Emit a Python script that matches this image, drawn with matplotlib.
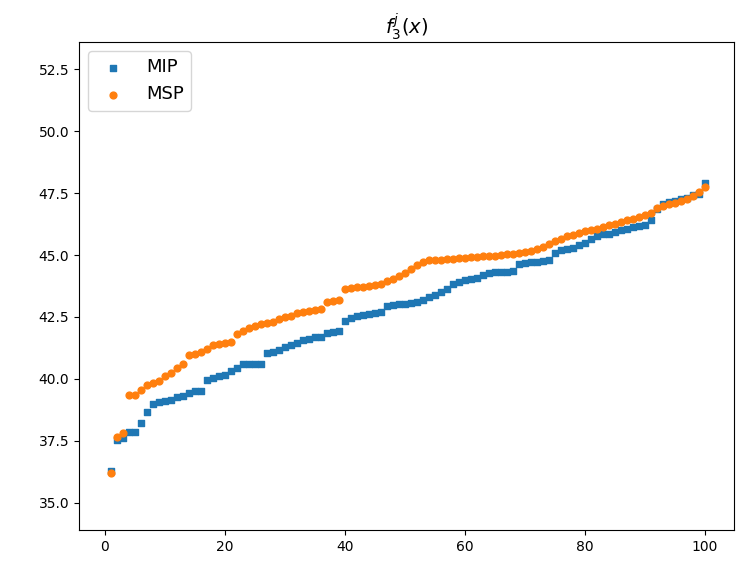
import numpy as np
import matplotlib
matplotlib.use("Agg")
import matplotlib.pyplot as plt

x = list(range(1, 101))

mip = [36.3, 37.55, 37.6, 37.85, 37.85, 38.2, 38.65, 39.0, 39.05, 39.1,
       39.15, 39.25, 39.3, 39.45, 39.5, 39.5, 39.95, 40.05, 40.1, 40.15,
       40.3, 40.45, 40.6, 40.6, 40.6, 40.62, 41.05, 41.1, 41.15, 41.3,
       41.35, 41.45, 41.55, 41.6, 41.68, 41.7, 41.85, 41.9, 41.92, 42.35,
       42.45, 42.55, 42.58, 42.62, 42.68, 42.72, 42.95, 43.0, 43.02, 43.02,
       43.05, 43.12, 43.2, 43.3, 43.4, 43.5, 43.62, 43.85, 43.92, 44.0,
       44.03, 44.08, 44.2, 44.29, 44.3, 44.3, 44.32, 44.35, 44.65, 44.68,
       44.7, 44.72, 44.75, 44.8, 45.1, 45.2, 45.23, 45.27, 45.4, 45.5,
       45.65, 45.78, 45.83, 45.86, 45.95, 46.03, 46.05, 46.12, 46.16, 46.2,
       46.4, 46.85, 47.05, 47.15, 47.2, 47.28, 47.32, 47.42, 47.48, 47.9]

msp = [36.2, 37.65, 37.8, 39.33, 39.35, 39.55, 39.75, 39.85, 39.9, 40.1,
       40.25, 40.45, 40.6, 40.95, 41.0, 41.1, 41.2, 41.38, 41.42, 41.45,
       41.5, 41.8, 41.95, 42.05, 42.12, 42.2, 42.25, 42.3, 42.4, 42.5,
       42.55, 42.65, 42.72, 42.75, 42.78, 42.82, 43.1, 43.15, 43.2, 43.62,
       43.65, 43.7, 43.72, 43.75, 43.8, 43.85, 43.95, 44.05, 44.15, 44.28,
       44.45, 44.6, 44.72, 44.78, 44.8, 44.82, 44.84, 44.86, 44.88, 44.9,
       44.92, 44.93, 44.95, 44.96, 44.98, 45.0, 45.03, 45.06, 45.09, 45.12,
       45.18, 45.25, 45.32, 45.45, 45.55, 45.65, 45.75, 45.8, 45.9, 45.98,
       46.03, 46.06, 46.12, 46.2, 46.25, 46.35, 46.42, 46.45, 46.52, 46.6,
       46.7, 46.9, 46.98, 47.05, 47.1, 47.2, 47.28, 47.4, 47.55, 47.75]

labels = ["MIP", "MSP"]

fig = plt.figure(figsize=(7.48, 5.64), dpi=100)
ax = fig.add_axes([0.1056, 0.0603, 0.8757, 0.8652])
ax.scatter(x, mip, marker="s", s=24, color="#1f77b4", label=labels[0])
ax.scatter(x, msp, marker="o", s=24, color="#ff7f0e", label=labels[1])
ax.set_xlim(-4.3, 104.9)
ax.set_ylim(33.9, 53.6)
ax.set_yticks([35.0, 37.5, 40.0, 42.5, 45.0, 47.5, 50.0, 52.5])
ax.set_title(r"$f_3^j(x)$", fontsize=14)
ax.legend(loc="upper left", fontsize=13)
fig.savefig("out.png", dpi=100)
